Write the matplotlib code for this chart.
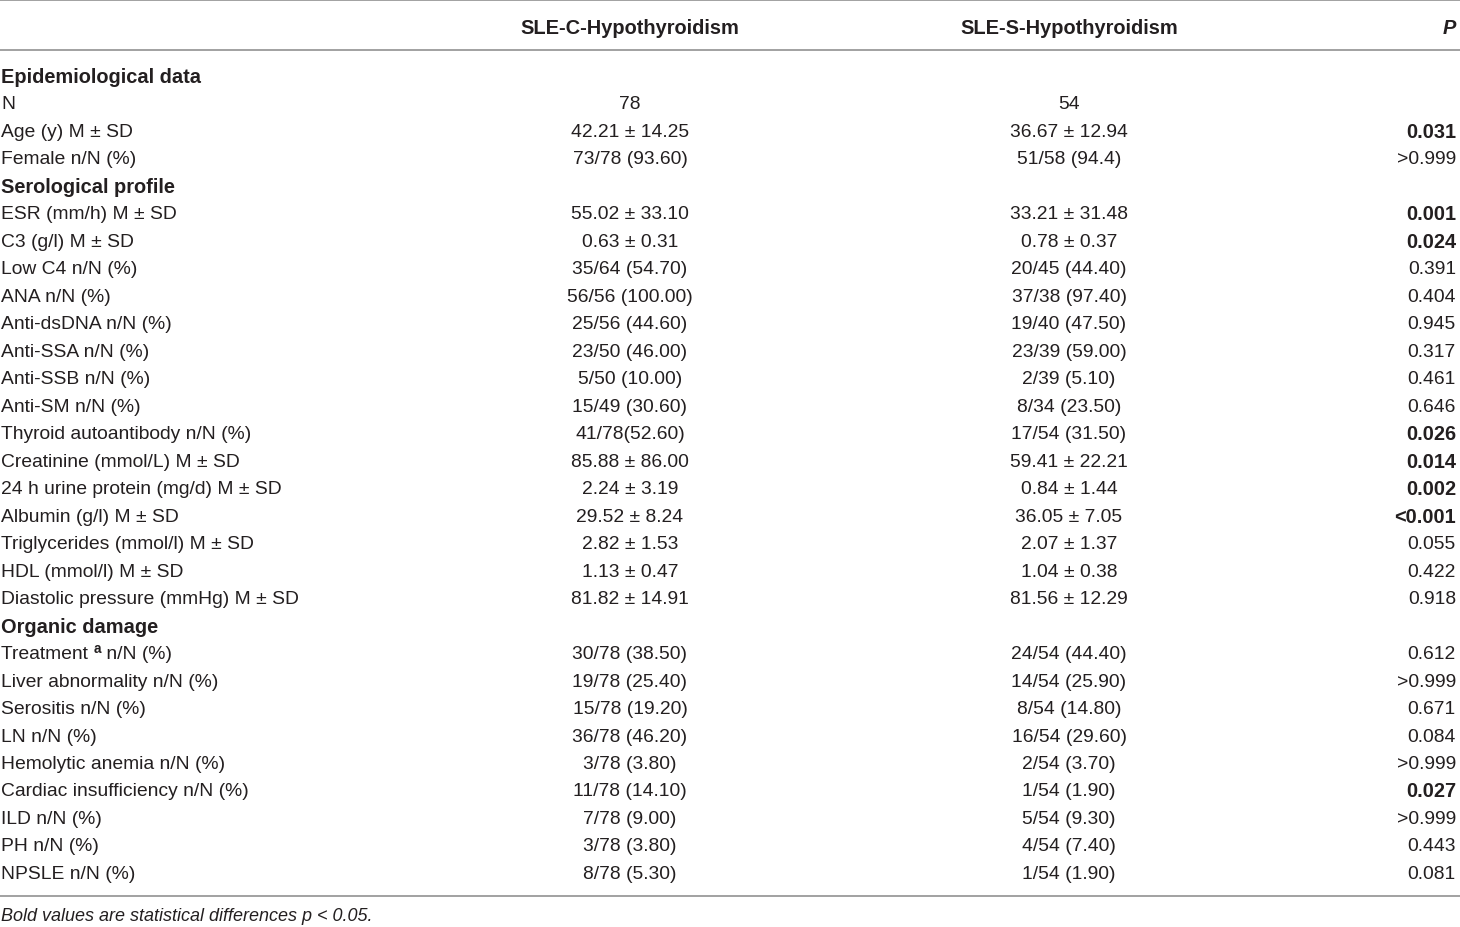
import matplotlib.pyplot as plt

plt.rcParams['font.family'] = ['Liberation Sans', 'DejaVu Sans']

# table content
header = ["", "SLE-C-Hypothyroidism", "SLE-S-Hypothyroidism", "P"]

sections = ["Epidemiological data", "Serological profile", "Organic damage"]

row_labels = [
    ["N", "Age (y) M \u00b1 SD", "Female n/N (%)"],
    ["ESR (mm/h) M \u00b1 SD", "C3 (g/l) M \u00b1 SD", "Low C4 n/N (%)", "ANA n/N (%)",
     "Anti-dsDNA n/N (%)", "Anti-SSA n/N (%)", "Anti-SSB n/N (%)", "Anti-SM n/N (%)",
     "Thyroid autoantibody n/N (%)", "Creatinine (mmol/L) M \u00b1 SD",
     "24 h urine protein (mg/d) M \u00b1 SD", "Albumin (g/l) M \u00b1 SD",
     "Triglycerides (mmol/l) M \u00b1 SD", "HDL (mmol/l) M \u00b1 SD",
     "Diastolic pressure (mmHg) M \u00b1 SD"],
    ["Treatment|a| n/N (%)", "Liver abnormality n/N (%)", "Serositis n/N (%)", "LN n/N (%)",
     "Hemolytic anemia n/N (%)", "Cardiac insufficiency n/N (%)", "ILD n/N (%)",
     "PH n/N (%)", "NPSLE n/N (%)"],
]

c_hypo = [
    ["78", "42.21 \u00b1 14.25", "73/78 (93.60)"],
    ["55.02 \u00b1 33.10", "0.63 \u00b1 0.31", "35/64 (54.70)", "56/56 (100.00)",
     "25/56 (44.60)", "23/50 (46.00)", "5/50 (10.00)", "15/49 (30.60)",
     "41/78(52.60)", "85.88 \u00b1 86.00", "2.24 \u00b1 3.19", "29.52 \u00b1 8.24",
     "2.82 \u00b1 1.53", "1.13 \u00b1 0.47", "81.82 \u00b1 14.91"],
    ["30/78 (38.50)", "19/78 (25.40)", "15/78 (19.20)", "36/78 (46.20)",
     "3/78 (3.80)", "11/78 (14.10)", "7/78 (9.00)", "3/78 (3.80)", "8/78 (5.30)"],
]

s_hypo = [
    ["54", "36.67 \u00b1 12.94", "51/58 (94.4)"],
    ["33.21 \u00b1 31.48", "0.78 \u00b1 0.37", "20/45 (44.40)", "37/38 (97.40)",
     "19/40 (47.50)", "23/39 (59.00)", "2/39 (5.10)", "8/34 (23.50)",
     "17/54 (31.50)", "59.41 \u00b1 22.21", "0.84 \u00b1 1.44", "36.05 \u00b1 7.05",
     "2.07 \u00b1 1.37", "1.04 \u00b1 0.38", "81.56 \u00b1 12.29"],
    ["24/54 (44.40)", "14/54 (25.90)", "8/54 (14.80)", "16/54 (29.60)",
     "2/54 (3.70)", "1/54 (1.90)", "5/54 (9.30)", "4/54 (7.40)", "1/54 (1.90)"],
]

p_values = [
    ["", "0.031", ">0.999"],
    ["0.001", "0.024", "0.391", "0.404", "0.945", "0.317", "0.461", "0.646",
     "0.026", "0.014", "0.002", "<0.001", "0.055", "0.422", "0.918"],
    ["0.612", ">0.999", "0.671", "0.084", ">0.999", "0.027", ">0.999", "0.443", "0.081"],
]

footnote = "Bold values are statistical differences p < 0.05."

W, H = 1460, 928
fig = plt.figure(figsize=(W / 100, H / 100), dpi=100)
ax = fig.add_axes([0, 0, 1, 1])
ax.set_xlim(0, W)
ax.set_ylim(H, 0)
ax.axis('off')

fs = 13.9
fs_b = 14.4
txt = '#231f20'
line_c = '#9a9a9a'
x_lab, x_c1, x_c2, x_p = 1, 630, 1069, 1456
y0, dy = 77.5, 27.48

# rules
for y in (1, 50.5, 897):
    ax.plot([0, W], [y, y], color=line_c, lw=1.3, solid_capstyle='butt')

# header
ax.text(x_c1, 28, header[1], ha='center', va='center', fontsize=fs_b, fontweight='bold', color=txt)
ax.text(x_c2, 28, header[2], ha='center', va='center', fontsize=fs_b, fontweight='bold', color=txt)
ax.text(x_p, 28, header[3], ha='right', va='center', fontsize=fs_b, fontweight='bold',
        style='italic', color=txt)

fig.canvas.draw()
renderer = fig.canvas.get_renderer()
inv = ax.transData.inverted()

i = 0
for s, sec in enumerate(sections):
    y = y0 + i * dy
    ax.text(x_lab, y, sec, ha='left', va='center', fontsize=fs_b, fontweight='bold', color=txt)
    i += 1
    for lab, v1, v2, p in zip(row_labels[s], c_hypo[s], s_hypo[s], p_values[s]):
        y = y0 + i * dy
        if '|' in lab:
            pre, sup, post = lab.split('|')
            t = ax.text(x_lab, y, pre + ' ', ha='left', va='center', fontsize=fs, color=txt)
            bb = t.get_window_extent(renderer)
            xa = inv.transform((bb.x1, 0))[0]
            t2 = ax.text(xa, y - 6, sup, ha='left', va='center', fontsize=fs * 0.7,
                         fontweight='bold', color=txt)
            bb2 = t2.get_window_extent(renderer)
            xb = inv.transform((bb2.x1, 0))[0]
            ax.text(xb, y, post, ha='left', va='center', fontsize=fs, color=txt)
        else:
            ax.text(x_lab, y, lab, ha='left', va='center', fontsize=fs, color=txt)
        ax.text(x_c1, y, v1, ha='center', va='center', fontsize=fs, color=txt)
        ax.text(x_c2, y, v2, ha='center', va='center', fontsize=fs, color=txt)
        bold = p.startswith('<') or (p[:1].isdigit() and float(p) < 0.05)
        ax.text(x_p, y, p, ha='right', va='center', fontsize=fs_b if bold else fs,
                fontweight='bold' if bold else 'normal', color=txt)
        i += 1

ax.text(x_lab, 917, footnote, ha='left', va='center', fontsize=13.0,
        style='italic', color=txt)

fig.savefig('out.png', dpi=100)
